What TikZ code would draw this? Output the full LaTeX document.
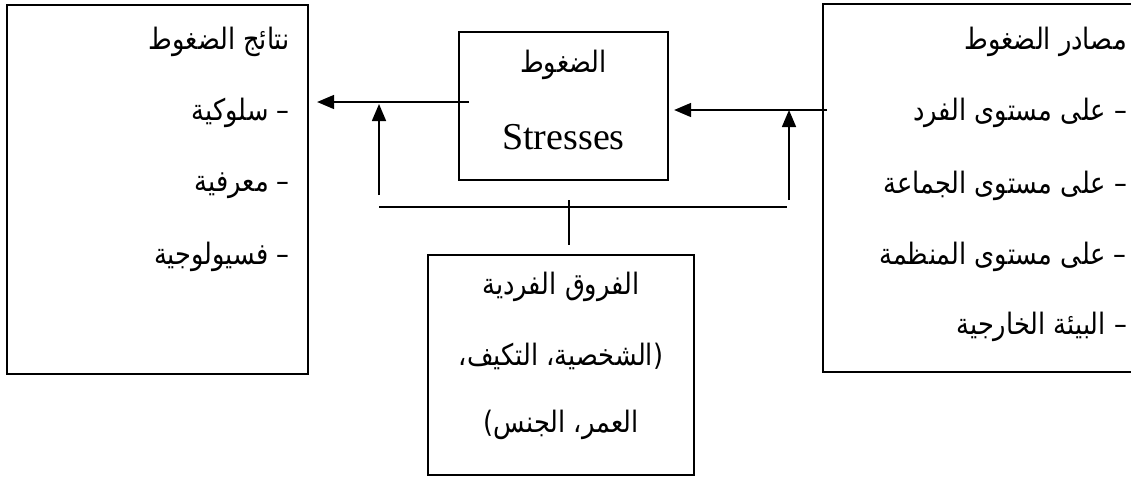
\documentclass[tikz,border=0pt]{standalone}
\usepackage{fontspec}
\setmainfont{Liberation Serif}
\newfontfamily\arabicfont[Script=Arabic, FakeStretch=0.87]{DejaVu Sans}
\TeXXeTstate=1
\usetikzlibrary{arrows.meta}
\newcommand{\artx}[1]{{\arabicfont\beginR #1\endR}}
\begin{document}
\begin{tikzpicture}[x=1pt,y=-1pt,
  box/.style={draw, line width=2.2pt, inner sep=0pt},
  conn/.style={line width=1.6pt},
  arr/.style={conn, -{Triangle[length=17pt,width=14pt]}},
  rtext/.style={anchor=east, inner sep=0pt, font=\fontsize{29.5}{34}\selectfont},
  ctext/.style={anchor=center, inner sep=0pt, font=\fontsize{29.5}{34}\selectfont},
  etext/.style={anchor=center, inner sep=0pt, font=\fontsize{38}{44}\selectfont}
]
\useasboundingbox (0,0) rectangle (1131,479);
\clip (0,0) rectangle (1131,479);

% boxes
\node[box, minimum width=301pt, minimum height=369pt] (lbox) at (157.5,189.5) {};
\node[box, minimum width=330pt, minimum height=368pt] (rbox) at (988,188) {};
\node[box, minimum width=209pt, minimum height=148pt] (cbox) at (563.5,106) {};
\node[box, minimum width=266pt, minimum height=220pt] (bbox) at (561,365) {};

% left box texts
\node[rtext] (l0) at (290,42) {\artx{نتائج الضغوط}};
\node[rtext] (l1) at (290,113) {\artx{– سلوكية}};
\node[rtext] (l2) at (290,186) {\artx{– معرفية}};
\node[rtext] (l3) at (290,257) {\artx{– فسيولوجية}};

% right box texts
\node[rtext] (r0) at (1127,42) {\artx{مصادر الضغوط}};
\node[rtext] (r1) at (1127,113) {\artx{– على مستوى الفرد}};
\node[rtext] (r2) at (1127,186) {\artx{– على مستوى الجماعة}};
\node[rtext] (r3) at (1127,257) {\artx{– على مستوى المنظمة}};
\node[rtext] (r4) at (1127,327) {\artx{– البيئة الخارجية}};

% center box texts
\node[ctext] (c0) at (563.5,65) {\artx{الضغوط}};
\node[etext] (c1) at (563.5,137) {Stresses};

% bottom box texts
\node[ctext] (b0) at (561,287) {\artx{الفروق الفردية}};
\node[ctext] (b1) at (561,356) {\artx{(الشخصية، التكيف،}};
\node[ctext] (b2) at (561,425) {\artx{العمر، الجنس)}};

% connectors
\coordinate (la0) at (469,102);
\draw[arr, shorten >=8pt] (la0) -- (lbox.east |- la0);
\coordinate (ra0) at (827,110);
\draw[arr, shorten >=5pt] (ra0) -- (cbox.east |- ra0);
\coordinate (lv0) at (379,195);
\draw[arr, shorten >=2pt] (lv0) -- (lv0 |- la0);
\coordinate (rv0) at (789,200);
\draw[arr] (rv0) -- (rv0 |- ra0);
\coordinate (h0) at (379,207);
\coordinate (h1) at (787,207);
\draw[conn] (h0) -- (h1);
\coordinate (s0) at (569,200);
\draw[conn, shorten >=9pt] (s0) -- (s0 |- bbox.north);
\end{tikzpicture}
\end{document}
